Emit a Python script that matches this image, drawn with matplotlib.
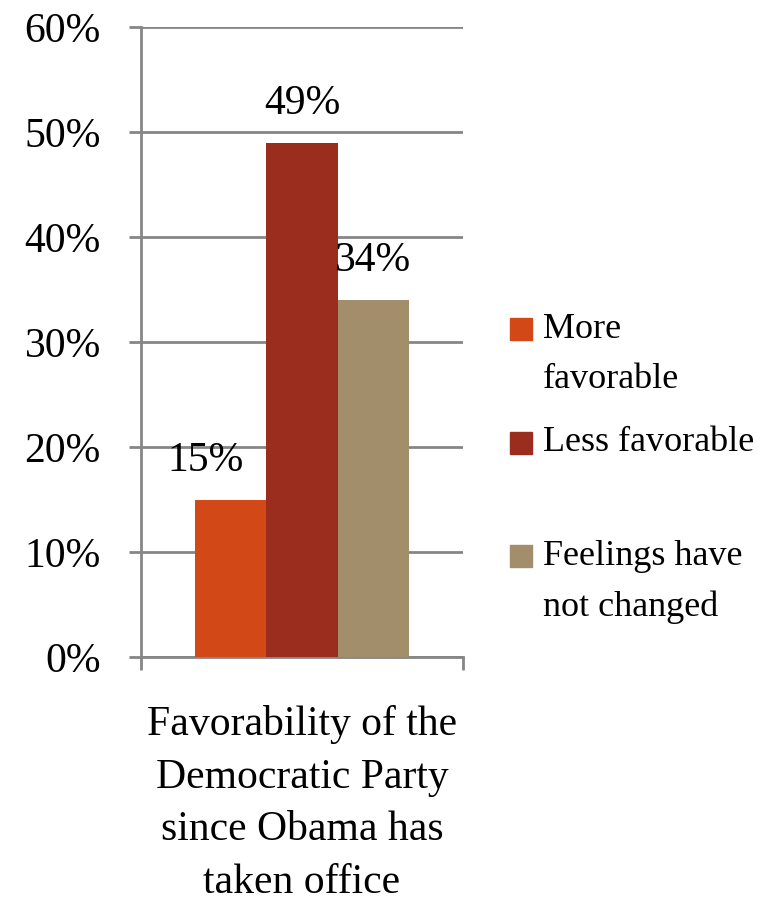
import matplotlib.pyplot as plt
from matplotlib.patches import Rectangle

# datos
categoria = "Favorability of the\nDemocratic Party\nsince Obama has\ntaken office"
series = ["More\nfavorable", "Less favorable", "Feelings have\nnot changed"]
valores = [15, 49, 34]
colores = ["#D34817", "#9B2D1F", "#A28E6A"]
yticks = [0, 10, 20, 30, 40, 50, 60]

plt.rcParams['font.family'] = ['Liberation Serif', 'DejaVu Serif']
gris = "#868686"

fig = plt.figure(figsize=(7.66, 9.07), dpi=100)
ax = fig.add_axes([141/766, 1 - 657/907, (463 - 141)/766, (657 - 27)/907])

ancho = 0.222
for i, (v, c) in enumerate(zip(valores, colores)):
    x = (i - 1) * ancho
    ax.bar(x, v, width=ancho, color=c, zorder=3)
    dx = -18 if i == 0 else 0  # Excel movio la etiqueta del 15%
    ax.annotate(f"{v}%", (x, v), xytext=(dx, 28), textcoords="offset points",
                ha="center", va="center", fontsize=30)

ax.set_xlim(-0.5, 0.5)
ax.set_ylim(0, 60)
ax.set_yticks(yticks)
ax.set_yticklabels([f"{t}%" for t in yticks], fontsize=30)
ax.set_xticks([-0.5, 0.5])
ax.set_xticklabels(["", ""])
ax.tick_params(axis="y", direction="out", length=9, width=2, color=gris, pad=20)
ax.tick_params(axis="x", direction="out", length=9, width=2, color=gris)
ax.grid(axis="y", color=gris, linewidth=2, zorder=0)
ax.set_axisbelow(True)
for lado in ["top", "right"]:
    ax.spines[lado].set_visible(False)
for lado in ["left", "bottom"]:
    ax.spines[lado].set_color(gris)
    ax.spines[lado].set_linewidth(2)

ax.set_xlabel(categoria, fontsize=30, linespacing=1.48, labelpad=22)

# leyenda manual
for i, (s, c) in enumerate(zip(series, colores)):
    ytop = 318 + i * 113.5
    fig.patches.append(Rectangle((510/766, 1 - (ytop + 22)/907), 22/766, 22/907,
                                 transform=fig.transFigure, color=c))
    fig.text(543/766, 1 - (ytop - 5)/907, s, fontsize=26, va="top", ha="left",
             linespacing=1.68)

fig.savefig("out.png", dpi=100)
